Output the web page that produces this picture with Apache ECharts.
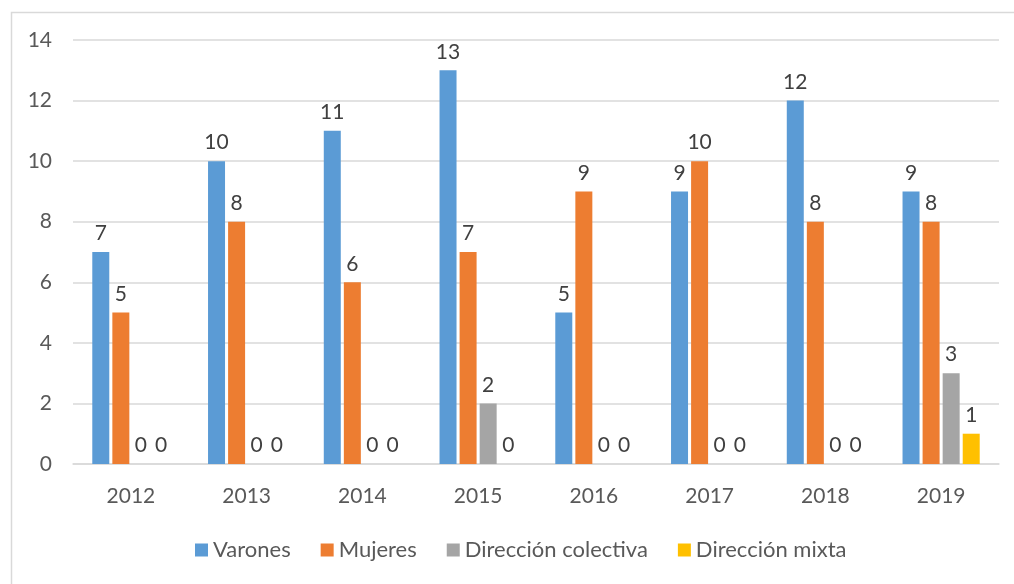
<!DOCTYPE html>
<html>
<head>
<meta charset="utf-8">
<script src="https://cdn.jsdelivr.net/npm/echarts@6/dist/echarts.min.js"></script>
<style>
    html, body { margin: 0; padding: 0; background: #fff; }
    #chart { width: 1014px; height: 584px; }
</style>
</head>
<body>
<div id="chart"></div>
<script>
var years = ['2012', '2013', '2014', '2015', '2016', '2017', '2018', '2019'];
var varones = [7, 10, 11, 13, 5, 9, 12, 9];
var mujeres = [5, 8, 6, 7, 9, 10, 8, 8];
var colectiva = [0, 0, 0, 2, 0, 0, 0, 3];
var mixta = [0, 0, 0, 0, 0, 0, 0, 1];

var textFont = 'Lato';

var makeSeries = function(name, data, color) {
    return {
        name: name,
        type: 'bar',
        data: data,
        barWidth: 17,
        barGap: '18%',
        itemStyle: { color: color },
        label: {
            show: true,
            position: 'top',
            distance: 8,
            color: '#404040',
            fontFamily: textFont,
            fontSize: 21
        }
    };
};

var myChart = echarts.init(document.getElementById('chart'));
var option = {
    backgroundColor: '#fff',
    animation: false,
    graphic: [{
        type: 'rect',
        left: 9,
        top: 10,
        shape: { width: 1020, height: 590 },
        style: { fill: 'none', stroke: '#d9d9d9', lineWidth: 1.5 },
        silent: true
    }],
    grid: {
        left: 73,
        right: 15,
        top: 40,
        bottom: 120
    },
    legend: {
        top: 534,
        left: 190,
        itemWidth: 13,
        itemHeight: 13,
        itemGap: 30,
        icon: 'rect',
        textStyle: {
            color: '#595959',
            fontFamily: textFont,
            fontSize: 22
        },
        data: ['Varones', 'Mujeres', 'Dirección colectiva', 'Dirección mixta']
    },
    xAxis: {
        type: 'category',
        data: years,
        axisLine: { lineStyle: { color: '#d9d9d9', width: 1.5 } },
        axisTick: { show: false },
        axisLabel: {
            color: '#595959',
            fontFamily: textFont,
            fontSize: 21,
            margin: 22
        }
    },
    yAxis: {
        type: 'value',
        min: 0,
        max: 14,
        interval: 2,
        axisLine: { show: false },
        axisTick: { show: false },
        splitLine: { lineStyle: { color: '#d9d9d9', width: 1.5 } },
        axisLabel: {
            color: '#595959',
            fontFamily: textFont,
            fontSize: 21,
            margin: 21
        }
    },
    series: [
        makeSeries('Varones', varones, '#5b9bd5'),
        makeSeries('Mujeres', mujeres, '#ed7d31'),
        makeSeries('Dirección colectiva', colectiva, '#a5a5a5'),
        makeSeries('Dirección mixta', mixta, '#ffc000')
    ]
};
myChart.setOption(option);
</script>
</body>
</html>
